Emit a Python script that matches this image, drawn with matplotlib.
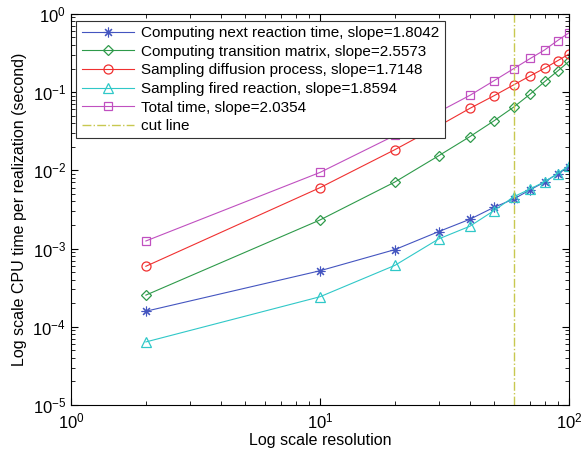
import matplotlib
matplotlib.use("Agg")
import matplotlib.pyplot as plt

plt.rcParams['font.family'] = ['Liberation Sans', 'DejaVu Sans']

# grid resolutions used in the timing runs
resolution = [2, 10, 20, 30, 40, 50, 60, 70, 80, 90, 100]

# CPU time per realization (seconds)
next_reaction = [1.58e-4, 5.2e-4, 9.7e-4, 1.65e-3, 2.37e-3, 3.37e-3, 4.3e-3, 5.67e-3, 7.1e-3, 9.1e-3, 1.1e-2]
transition_matrix = [2.54e-4, 2.32e-3, 7.1e-3, 1.54e-2, 2.7e-2, 4.3e-2, 6.45e-2, 9.5e-2, 0.137, 0.186, 0.247]
diffusion = [5.94e-4, 6.0e-3, 1.84e-2, 3.7e-2, 6.2e-2, 9.0e-2, 0.124, 0.162, 0.203, 0.252, 0.307]
fired_reaction = [6.4e-5, 2.42e-4, 6.1e-4, 1.33e-3, 1.93e-3, 3.06e-3, 4.6e-3, 5.8e-3, 7.2e-3, 9.1e-3, 1.15e-2]
total = [1.25e-3, 9.4e-3, 2.8e-2, 5.6e-2, 9.1e-2, 0.14, 0.2, 0.27, 0.348, 0.457, 0.574]

labels = [
    'Computing next reaction time, slope=1.8042',
    'Computing transition matrix, slope=2.5573',
    'Sampling diffusion process, slope=1.7148',
    'Sampling fired reaction, slope=1.8594',
    'Total time, slope=2.0354',
]
cut_x = 60

fig = plt.figure(figsize=(5.86, 4.49), dpi=100)
ax = fig.add_axes([0.121, 0.098, 0.850, 0.871])

lw = 0.8
# asterisk marker: 8 spokes like + and x overlaid
ax.plot(resolution, next_reaction, color='#4455c0', marker=(8, 2, 0), ms=7, mew=0.8, lw=lw, label=labels[0])
ax.plot(resolution, transition_matrix, color='#2e9a4a', marker='D', ms=5.5, mfc='none', mew=0.9, lw=lw, label=labels[1])
ax.plot(resolution, diffusion, color='#f03030', marker='o', ms=6.5, mfc='none', mew=0.9, lw=lw, label=labels[2])
ax.plot(resolution, fired_reaction, color='#30c8c8', marker='^', ms=7, mfc='none', mew=0.9, lw=lw, label=labels[3])
ax.plot(resolution, total, color='#c050c0', marker='s', ms=5.5, mfc='none', mew=0.9, lw=lw, label=labels[4])
ax.axvline(cut_x, color='#c8c850', ls='-.', lw=1.0, label='cut line')

ax.set_xscale('log')
ax.set_yscale('log')
ax.set_xlim(1, 100)
ax.set_ylim(1e-5, 1)

ax.tick_params(which='both', direction='in', top=True, right=True, labelsize=12)
ax.tick_params(which='major', length=5)
ax.tick_params(which='minor', length=3)
ax.tick_params(axis='x', pad=5)
for s in ax.spines.values():
    s.set_linewidth(0.8)

ax.set_xlabel('Log scale resolution', fontsize=11.5, labelpad=1)
ax.set_ylabel('Log scale CPU time per realization (second)', fontsize=11.5)

leg = ax.legend(loc='upper left', bbox_to_anchor=(0.005, 0.99), fontsize=11,
                fancybox=False, edgecolor='#333333', framealpha=1,
                handlelength=3.4, handletextpad=0.5, labelspacing=0.3,
                borderpad=0.35, borderaxespad=0.2)
leg.get_frame().set_linewidth(0.8)

fig.savefig('out.png', dpi=100)
